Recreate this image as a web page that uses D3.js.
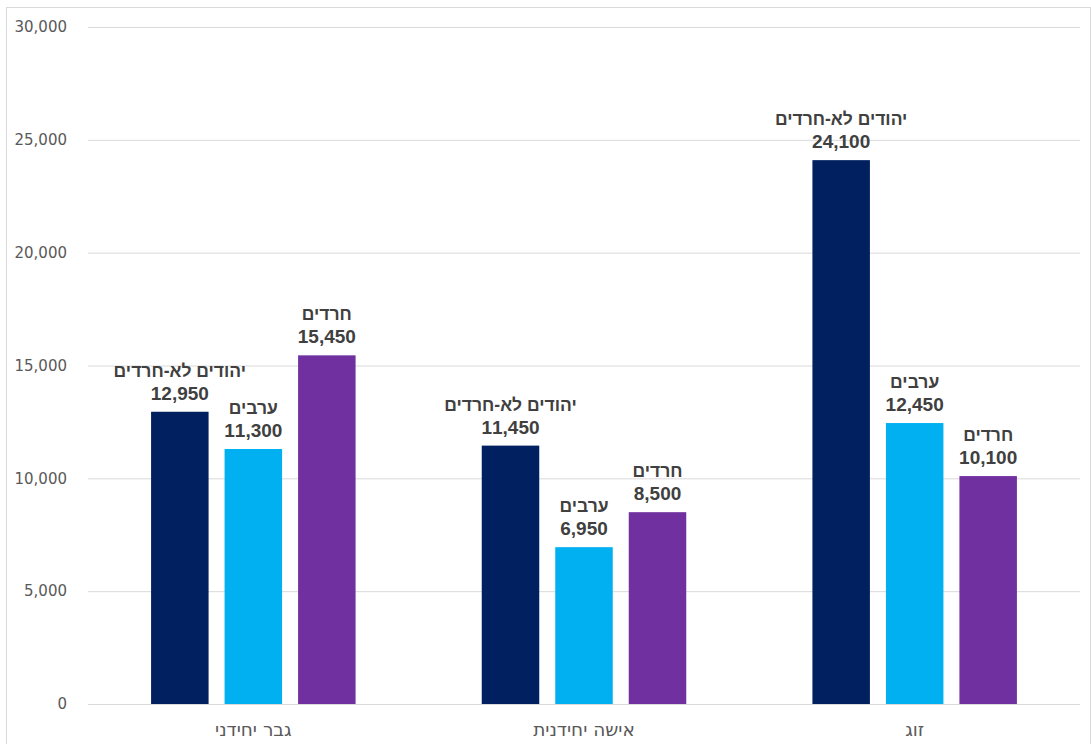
<!DOCTYPE html>
<html>
<head>
<meta charset="utf-8">
<script src="https://cdn.jsdelivr.net/npm/d3@7"></script>
<style>
  body { margin: 0; background: #fff; }
  .axis text { font-family: "DejaVu Sans", sans-serif; font-size: 15px; fill: #595959; }
  .x-axis text { font-size: 18.5px; }
  .bar-label { font-family: "Liberation Sans", Arial, sans-serif; font-size: 19px; font-weight: bold; fill: #404040; }
  .bar-label .name { font-size: 17.5px; }
</style>
</head>
<body>
<div id="chart"></div>
<script>
// categories (left to right) and series
const categories = ['גבר יחידני', 'אישה יחידנית', 'זוג'];
const seriesNames = ['יהודים לא-חרדים', 'ערבים', 'חרדים'];
const seriesColors = ['#002060', '#00B0F0', '#7030A0'];

// values per series, in category order
const nonHaredi = [12950, 11450, 24100];
const arabs = [11300, 6950, 12450];
const haredi = [15450, 8500, 10100];

const yTicks = [0, 5000, 10000, 15000, 20000, 25000, 30000];

const config = {
    width: 1091,
    height: 744,
    margin: {top: 27, right: 11, bottom: 40, left: 88}
};

const seriesValues = [nonHaredi, arabs, haredi];
const data = categories.map((c, i) => ({
    category: c,
    values: seriesNames.map((s, j) => ({series: s, value: seriesValues[j][i], color: seriesColors[j]}))
}));

const svg = d3.select('#chart').append('svg')
    .attr('width', config.width)
    .attr('height', config.height);

// chart border
svg.append('rect')
    .attr('x', 6.5).attr('y', 7.5)
    .attr('width', 1084).attr('height', 800)
    .attr('fill', 'none')
    .attr('stroke', '#d9d9d9');

const innerW = config.width - config.margin.left - config.margin.right;
const innerH = config.height - config.margin.top - config.margin.bottom;

const chart = svg.append('g')
    .attr('transform', `translate(${config.margin.left},${config.margin.top})`);

const x0 = d3.scaleBand()
    .domain(categories)
    .range([0, innerW])
    .padding(0);

const x1 = d3.scaleBand()
    .domain(seriesNames)
    .range([-102.25, 102.25])
    .paddingInner(0.2177)
    .paddingOuter(0);

const y = d3.scaleLinear()
    .domain([0, 30000])
    .range([innerH, 0]);

// gridlines
chart.append('g')
    .attr('class', 'grid')
    .call(d3.axisLeft(y).tickValues(yTicks).tickSize(-innerW).tickFormat(''))
    .call(g => g.select('.domain').remove())
    .call(g => g.selectAll('line').attr('stroke', '#d9d9d9').attr('stroke-width', 1));

// y axis labels
chart.append('g')
    .attr('class', 'axis y-axis')
    .attr('transform', 'translate(-18,0)')
    .call(d3.axisLeft(y).tickValues(yTicks).tickSize(0).tickFormat(d3.format(',')))
    .call(g => g.select('.domain').remove());

// x axis labels
chart.append('g')
    .attr('class', 'axis x-axis')
    .attr('transform', `translate(0,${innerH + 16})`)
    .call(d3.axisBottom(x0).tickSize(0))
    .call(g => g.select('.domain').remove());

// bars
const groups = chart.selectAll('.group')
    .data(data)
    .join('g')
    .attr('class', 'group')
    .attr('transform', d => `translate(${x0(d.category) + x0.bandwidth() / 2},0)`);

groups.selectAll('rect')
    .data(d => d.values)
    .join('rect')
    .attr('x', d => x1(d.series))
    .attr('y', d => y(d.value))
    .attr('width', x1.bandwidth())
    .attr('height', d => innerH - y(d.value))
    .attr('fill', d => d.color);

// labels: series name above value
const labels = groups.selectAll('.bar-label')
    .data(d => d.values)
    .join('text')
    .attr('class', 'bar-label')
    .attr('text-anchor', 'middle')
    .attr('x', d => x1(d.series) + x1.bandwidth() / 2)
    .attr('y', d => y(d.value) - 12);

labels.append('tspan')
    .attr('class', 'name')
    .attr('x', d => x1(d.series) + x1.bandwidth() / 2)
    .attr('dy', -23)
    .text(d => d.series);

labels.append('tspan')
    .attr('x', d => x1(d.series) + x1.bandwidth() / 2)
    .attr('dy', 23)
    .text(d => d3.format(',')(d.value));
</script>
</body>
</html>
